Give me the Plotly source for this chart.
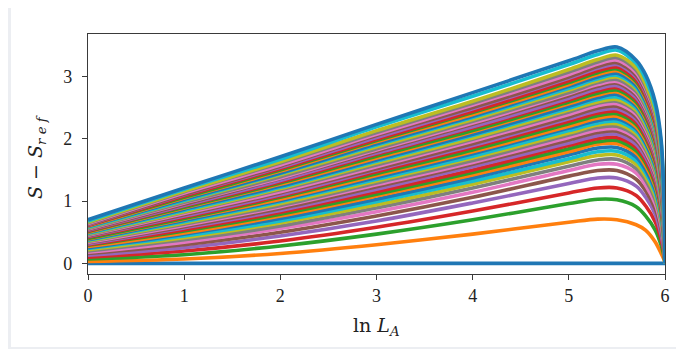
import plotly.graph_objects as go

# x positions (ln L_A) at which each curve is read
ln_LA = [0, 1, 2, 3, 4, 5, 5.3, 5.5, 5.7, 5.8, 5.9, 5.96, 5.99, 6.0]

# S - S_ref of curves n = 0..50, one list per x position
col_0 = [0, 0.03, 0.07, 0.10, 0.13, 0.16, 0.18, 0.20, 0.22, 0.24, 0.25, 0.27, 0.29, 0.30, 0.31, 0.33, 0.34, 0.35, 0.36, 0.37, 0.38, 0.39, 0.40, 0.42, 0.43, 0.44, 0.45, 0.46, 0.47, 0.48, 0.49, 0.50, 0.51, 0.52, 0.53, 0.54, 0.55, 0.56, 0.57, 0.58, 0.59, 0.60, 0.61, 0.61, 0.62, 0.63, 0.64, 0.65, 0.66, 0.68, 0.70]
col_1 = [0, 0.07, 0.14, 0.20, 0.25, 0.30, 0.34, 0.38, 0.41, 0.44, 0.47, 0.49, 0.52, 0.54, 0.57, 0.59, 0.61, 0.63, 0.65, 0.67, 0.69, 0.71, 0.72, 0.74, 0.76, 0.78, 0.80, 0.82, 0.83, 0.85, 0.87, 0.89, 0.90, 0.92, 0.93, 0.95, 0.97, 0.98, 1.00, 1.01, 1.03, 1.05, 1.06, 1.08, 1.10, 1.11, 1.13, 1.15, 1.16, 1.19, 1.21]
col_2 = [0, 0.16, 0.28, 0.36, 0.44, 0.50, 0.56, 0.60, 0.65, 0.68, 0.72, 0.76, 0.79, 0.82, 0.85, 0.88, 0.91, 0.93, 0.96, 0.99, 1.01, 1.03, 1.06, 1.08, 1.10, 1.13, 1.15, 1.18, 1.20, 1.22, 1.24, 1.27, 1.29, 1.31, 1.33, 1.36, 1.37, 1.39, 1.42, 1.44, 1.45, 1.48, 1.50, 1.52, 1.54, 1.56, 1.58, 1.61, 1.63, 1.67, 1.71]
col_3 = [0, 0.30, 0.47, 0.58, 0.68, 0.76, 0.83, 0.89, 0.94, 0.99, 1.03, 1.08, 1.11, 1.15, 1.19, 1.23, 1.26, 1.29, 1.32, 1.35, 1.38, 1.41, 1.44, 1.47, 1.50, 1.52, 1.55, 1.58, 1.61, 1.64, 1.66, 1.69, 1.72, 1.75, 1.77, 1.80, 1.82, 1.84, 1.87, 1.90, 1.92, 1.95, 1.97, 1.99, 2.02, 2.05, 2.07, 2.10, 2.13, 2.19, 2.23]
col_4 = [0, 0.47, 0.70, 0.84, 0.97, 1.06, 1.14, 1.21, 1.27, 1.32, 1.37, 1.42, 1.46, 1.50, 1.55, 1.59, 1.62, 1.65, 1.69, 1.72, 1.76, 1.79, 1.82, 1.86, 1.89, 1.92, 1.96, 1.99, 2.01, 2.05, 2.07, 2.11, 2.13, 2.17, 2.19, 2.23, 2.25, 2.28, 2.31, 2.34, 2.36, 2.39, 2.42, 2.44, 2.48, 2.50, 2.54, 2.57, 2.60, 2.68, 2.74]
col_5 = [0, 0.66, 0.96, 1.13, 1.28, 1.40, 1.49, 1.56, 1.63, 1.68, 1.74, 1.79, 1.84, 1.89, 1.93, 1.98, 2.02, 2.06, 2.09, 2.13, 2.17, 2.20, 2.24, 2.28, 2.32, 2.35, 2.39, 2.43, 2.46, 2.49, 2.52, 2.56, 2.59, 2.62, 2.65, 2.69, 2.72, 2.74, 2.78, 2.81, 2.84, 2.87, 2.90, 2.93, 2.97, 2.99, 3.03, 3.07, 3.11, 3.19, 3.25]
col_53 = [0, 0.71, 1.03, 1.21, 1.37, 1.49, 1.59, 1.66, 1.73, 1.79, 1.85, 1.91, 1.95, 2.00, 2.05, 2.10, 2.14, 2.18, 2.22, 2.25, 2.29, 2.33, 2.37, 2.41, 2.45, 2.49, 2.53, 2.57, 2.59, 2.63, 2.66, 2.70, 2.73, 2.77, 2.80, 2.84, 2.87, 2.90, 2.93, 2.96, 2.99, 3.03, 3.06, 3.09, 3.13, 3.16, 3.20, 3.23, 3.27, 3.35, 3.41]
col_55 = [0, 0.70, 1.02, 1.21, 1.37, 1.49, 1.59, 1.67, 1.74, 1.80, 1.86, 1.92, 1.97, 2.02, 2.07, 2.12, 2.16, 2.20, 2.24, 2.28, 2.32, 2.36, 2.40, 2.44, 2.48, 2.52, 2.56, 2.60, 2.63, 2.67, 2.71, 2.75, 2.78, 2.82, 2.85, 2.89, 2.92, 2.95, 2.99, 3.02, 3.05, 3.09, 3.12, 3.15, 3.19, 3.22, 3.26, 3.30, 3.34, 3.42, 3.47]
col_57 = [0, 0.62, 0.91, 1.09, 1.24, 1.35, 1.45, 1.52, 1.59, 1.65, 1.71, 1.77, 1.81, 1.86, 1.91, 1.96, 2.00, 2.04, 2.08, 2.12, 2.16, 2.19, 2.23, 2.27, 2.31, 2.35, 2.39, 2.43, 2.46, 2.50, 2.53, 2.56, 2.59, 2.63, 2.66, 2.70, 2.73, 2.76, 2.80, 2.83, 2.86, 2.90, 2.92, 2.95, 2.99, 3.02, 3.06, 3.10, 3.14, 3.21, 3.26]
col_58 = [0, 0.53, 0.76, 0.92, 1.06, 1.16, 1.25, 1.33, 1.39, 1.45, 1.50, 1.56, 1.61, 1.65, 1.70, 1.75, 1.78, 1.82, 1.86, 1.90, 1.93, 1.97, 2.01, 2.04, 2.08, 2.12, 2.15, 2.19, 2.22, 2.26, 2.29, 2.32, 2.35, 2.39, 2.42, 2.45, 2.48, 2.51, 2.55, 2.57, 2.60, 2.64, 2.67, 2.69, 2.73, 2.76, 2.80, 2.83, 2.87, 2.95, 3.02]
col_59 = [0, 0.34, 0.53, 0.66, 0.78, 0.87, 0.95, 1.02, 1.08, 1.13, 1.18, 1.23, 1.27, 1.31, 1.36, 1.40, 1.43, 1.47, 1.50, 1.54, 1.57, 1.61, 1.64, 1.67, 1.71, 1.74, 1.77, 1.81, 1.83, 1.87, 1.90, 1.93, 1.96, 1.99, 2.02, 2.05, 2.08, 2.10, 2.14, 2.16, 2.19, 2.22, 2.25, 2.27, 2.31, 2.33, 2.37, 2.40, 2.43, 2.51, 2.58]
col_596 = [0, 0.16, 0.29, 0.38, 0.46, 0.54, 0.60, 0.66, 0.70, 0.75, 0.79, 0.83, 0.87, 0.90, 0.94, 0.97, 1.00, 1.03, 1.06, 1.09, 1.12, 1.14, 1.17, 1.20, 1.23, 1.25, 1.28, 1.31, 1.33, 1.36, 1.39, 1.41, 1.44, 1.46, 1.49, 1.52, 1.54, 1.56, 1.59, 1.61, 1.63, 1.66, 1.68, 1.70, 1.73, 1.75, 1.78, 1.80, 1.83, 1.92, 1.98]
col_599 = [0, 0.06, 0.11, 0.16, 0.20, 0.24, 0.27, 0.30, 0.33, 0.35, 0.37, 0.40, 0.42, 0.43, 0.45, 0.47, 0.49, 0.50, 0.52, 0.54, 0.55, 0.56, 0.58, 0.59, 0.61, 0.62, 0.64, 0.65, 0.67, 0.68, 0.69, 0.71, 0.72, 0.74, 0.75, 0.76, 0.77, 0.79, 0.80, 0.81, 0.82, 0.84, 0.85, 0.86, 0.88, 0.89, 0.90, 0.92, 0.93, 0.95, 0.97]
col_6 = [0] * 51

x_ticks = [0, 1, 2, 3, 4, 5, 6]
y_ticks = [0, 1, 2, 3]

columns = [col_0, col_1, col_2, col_3, col_4, col_5, col_53, col_55, col_57,
           col_58, col_59, col_596, col_599, col_6]
n_curves = len(col_0)
for c in columns:
    assert len(c) == n_curves, len(c)

tab10 = ['#1f77b4', '#ff7f0e', '#2ca02c', '#d62728', '#9467bd',
         '#8c564b', '#e377c2', '#7f7f7f', '#bcbd22', '#17becf']

fig = go.Figure()
for n in range(n_curves):
    fig.add_trace(go.Scatter(
        x=ln_LA, y=[c[n] for c in columns], mode='lines',
        line=dict(color=tab10[n % 10], width=3.6, shape='spline', smoothing=0.9),
        showlegend=False, hoverinfo='skip'))

# page body has an 8px margin: figure coords = page coords - 8
OFF = 8
W, H = 676, 341
L, T = 88 - OFF, 34 - OFF
R = W - (665 - OFF)
B = H - (274 - OFF)
pw, ph = W - L - R, H - T - B

def px(xp):
    return (xp - OFF - L) / pw

def py(yp):
    return (H - B - (yp - OFF)) / ph

fig.add_shape(type='rect', xref='paper', yref='paper',
              x0=px(11), x1=px(682), y0=py(347), y1=py(0),
              fillcolor='white', line=dict(width=0), layer='below')

tick_font = 'Liberation Serif, DejaVu Serif, serif'
title_font = 'DejaVu Serif, Liberation Serif, serif'
axis_common = dict(showgrid=False, zeroline=False, showline=True, mirror=True,
                   linecolor='#3a3a3a', linewidth=1.4, ticks='outside',
                   ticklen=5, tickwidth=1.4, tickcolor='#3a3a3a',
                   tickfont=dict(family=tick_font, size=18, color='#222222'))

fig.update_layout(
    width=W, height=H,
    margin=dict(l=L, r=R, t=T, b=B, pad=0),
    paper_bgcolor='#eceef2', plot_bgcolor='white',
    xaxis=dict(range=[0, 6], tickvals=x_ticks, **axis_common),
    yaxis=dict(range=[-0.17, 3.68], tickvals=y_ticks, ticklabelstandoff=6,
               **axis_common),
    annotations=[
        dict(text='ln <i>L</i><sub><i>A</i></sub>', xref='paper', yref='paper',
             x=px(376), y=py(326), showarrow=False, xanchor='center', yanchor='middle',
             font=dict(family=title_font, size=19, color='#222222')),
        dict(text='<i>S</i>&nbsp;−&nbsp;<i>S</i><sub><i>r e f</i></sub>',
             xref='paper', yref='paper',
             x=px(36), y=py(157), showarrow=False, textangle=-90,
             xanchor='center', yanchor='middle',
             font=dict(family=title_font, size=19, color='#222222')),
    ],
)

fig.write_html('out.html')
